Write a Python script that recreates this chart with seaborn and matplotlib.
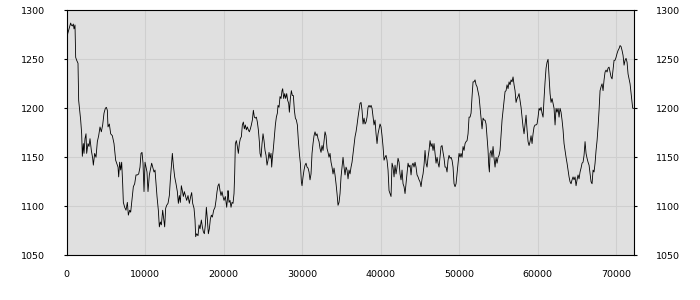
import matplotlib
matplotlib.use("Agg")
import matplotlib.pyplot as plt
import seaborn as sns
import pandas as pd

# ---- data (x = sample index, y = value) ----
x_a = [0, 149, 318, 531, 616, 743, 871, 956, 1083, 1168, 1295, 1465, 1550, 1678, 1805, 1932, 2017, 2145,
       2230, 2357, 2485, 2569, 2739, 2867, 2994, 3164, 3334, 3419, 3589, 3759, 3928, 4098, 4268, 4438,
       4608, 4778, 4948, 5075, 5203, 5287, 5457, 5627, 5840, 6052, 6264, 6392, 6562, 6647, 6774, 6901,
       7029, 7156, 7241, 7411, 7581, 7751, 7878, 8048, 8176, 8388, 8515, 8685, 8855, 9025, 9195, 9365,
       9492, 9620, 9747, 9874, 10002]
y_a = [1260, 1276, 1281, 1287, 1285, 1284, 1286, 1281, 1285, 1252, 1249, 1246, 1208, 1198, 1188, 1174, 1151, 1164,
       1154, 1169, 1174, 1154, 1164, 1161, 1169, 1157, 1149, 1142, 1154, 1150, 1166, 1172, 1181, 1176,
       1183, 1195, 1200, 1201, 1198, 1181, 1184, 1174, 1172, 1164, 1147, 1144, 1140, 1130, 1145, 1137,
       1145, 1123, 1104, 1099, 1096, 1104, 1091, 1096, 1094, 1110, 1120, 1123, 1132, 1132, 1133, 1140,
       1154, 1155, 1144, 1115, 1145]

x_b = [10255, 10383, 10553, 10723, 10850, 10977, 11147, 11275, 11402, 11530, 11699, 11827, 11954, 12082,
       12252, 12379, 12506, 12634, 12761, 12931, 13101, 13228, 13356, 13483, 13610, 13780, 13950, 14120,
       14248, 14375, 14502, 14630, 14757, 14885, 15012, 15139, 15309, 15479, 15649, 15819, 15946, 16074,
       16244, 16371, 16456, 16583, 16753, 16881, 17008, 17178, 17305, 17433, 17560, 17688, 17815, 17942,
       18070, 18197, 18325, 18452, 18579, 18749, 18919, 19047, 19174, 19301, 19429, 19556, 19684, 19811,
       19938, 20066, 20236, 20406, 20533]
y_b = [1135, 1115, 1132, 1139, 1144, 1140, 1135, 1137, 1123, 1110, 1096, 1079, 1084, 1081,
       1096, 1087, 1079, 1098, 1101, 1103, 1111, 1127, 1140, 1154, 1142, 1130, 1123, 1115,
       1103, 1111, 1104, 1121, 1116, 1110, 1115, 1111, 1106, 1111, 1103, 1110, 1114, 1103,
       1098, 1086, 1069, 1072, 1070, 1081, 1077, 1086, 1079, 1074, 1072, 1081, 1099, 1087,
       1072, 1077, 1087, 1091, 1089, 1096, 1099, 1106, 1115, 1121, 1123, 1116, 1111, 1115,
       1110, 1106, 1110, 1099, 1110]

x_c = [20575, 20702, 20830, 20957, 21085, 21212, 21339, 21424, 21509, 21637, 21764, 21892, 22019, 22146,
       22274, 22401, 22529, 22656, 22783, 22911, 23038, 23166, 23293, 23420, 23548, 23675, 23803, 23930,
       24058, 24185, 24312, 24440, 24567, 24652, 24780, 24907, 25034, 25162, 25289, 25417, 25544, 25671,
       25799, 25926, 26054, 26138, 26223, 26351, 26478, 26606, 26733, 26861, 26945, 27073, 27200, 27328,
       27455, 27540, 27667, 27795, 27922, 28050, 28177, 28304, 28389, 28517, 28644, 28772, 28899, 29026,
       29154, 29281, 29409, 29536, 29663, 29791, 29918, 30003, 30131, 30258, 30386, 30513, 30640, 30768,
       30895]
y_c = [1116, 1104, 1106, 1099, 1104, 1103, 1113, 1133, 1164, 1167, 1161, 1154, 1164, 1169,
       1171, 1183, 1186, 1179, 1183, 1178, 1181, 1178, 1176, 1179, 1183, 1188, 1198, 1191,
       1190, 1191, 1186, 1178, 1166, 1154, 1150, 1164, 1174, 1167, 1157, 1152, 1142, 1147,
       1155, 1149, 1154, 1140, 1149, 1159, 1171, 1183, 1191, 1195, 1203, 1201, 1212, 1210,
       1218, 1220, 1210, 1215, 1210, 1215, 1208, 1205, 1196, 1210, 1218, 1213, 1213, 1198,
       1190, 1188, 1183, 1167, 1154, 1144, 1125, 1121, 1130, 1137, 1142, 1144, 1140, 1139,
       1135]

x_d = [31022, 31149, 31277, 31404, 31532, 31659, 31786, 31914, 32041, 32169, 32296, 32423, 32551, 32678,
       32806, 32933, 33061, 33188, 33315, 33443, 33570, 33698, 33825, 33952, 34080, 34207, 34335, 34462,
       34589, 34717, 34844, 34972, 35099, 35226, 35354, 35481, 35609, 35736, 35864, 35991, 36118, 36246,
       36373, 36501, 36628, 36755, 36883, 37010, 37138, 37265, 37392, 37520, 37647, 37775, 37902, 38030,
       38157, 38284, 38412, 38539, 38667, 38794, 38921, 39049, 39176, 39304, 39431, 39558, 39686, 39813,
       39941, 40068, 40195, 40323, 40450, 40578, 40705, 40832, 40960, 41087, 41215, 41342]
y_d = [1127, 1133, 1154, 1164, 1172, 1176, 1172, 1174, 1169, 1166, 1159, 1155, 1162, 1157,
       1167, 1176, 1172, 1159, 1155, 1150, 1154, 1145, 1140, 1133, 1139, 1132, 1123, 1113,
       1101, 1104, 1113, 1130, 1140, 1150, 1140, 1132, 1140, 1137, 1128, 1137, 1133, 1140,
       1145, 1154, 1162, 1171, 1176, 1183, 1191, 1198, 1205, 1206, 1198, 1184, 1190, 1184,
       1186, 1191, 1201, 1203, 1201, 1203, 1200, 1191, 1183, 1188, 1174, 1164, 1174, 1179,
       1184, 1181, 1172, 1161, 1147, 1150, 1152, 1147, 1137, 1116, 1113, 1110]

x_e = [41469, 41596, 41724, 41851, 41979, 42106, 42233, 42361, 42488, 42616, 42743, 42870, 42998, 43125,
       43253, 43380, 43508, 43635, 43762, 43890, 44017, 44145, 44272, 44399, 44527, 44654, 44782, 44909,
       45036, 45164, 45291, 45419, 45546, 45673, 45801, 45928, 46056, 46183, 46310, 46438, 46565, 46693,
       46820, 46947, 47075, 47202, 47330, 47457, 47585, 47712, 47839, 47967, 48094, 48222, 48349, 48476,
       48604, 48731, 48859, 48986, 49113, 49241, 49368, 49496, 49623, 49750, 49878, 50005, 50133, 50260,
       50387, 50515, 50642, 50770, 50897, 51024, 51152, 51279, 51407, 51534, 51661, 51789]
y_e = [1144, 1140, 1130, 1142, 1133, 1140, 1149, 1145, 1133, 1127, 1137, 1123, 1120, 1113,
       1123, 1132, 1144, 1140, 1142, 1132, 1142, 1144, 1140, 1145, 1140, 1132, 1130, 1127,
       1125, 1120, 1128, 1133, 1142, 1157, 1144, 1140, 1150, 1157, 1167, 1161, 1164, 1157,
       1164, 1154, 1144, 1150, 1144, 1140, 1150, 1161, 1162, 1155, 1149, 1140, 1140, 1135,
       1147, 1152, 1149, 1150, 1147, 1140, 1123, 1120, 1123, 1133, 1144, 1154, 1150, 1154,
       1150, 1161, 1157, 1164, 1166, 1167, 1174, 1191, 1191, 1195, 1212, 1227]

x_f = [51916, 52043, 52171, 52298, 52426, 52553, 52680, 52808, 52935, 53063, 53190, 53317, 53445, 53572,
       53700, 53785, 53869, 53954, 54082, 54209, 54337, 54464, 54591, 54719, 54846, 54974, 55101, 55228,
       55356, 55483, 55611, 55738, 55865, 55993, 56120, 56248, 56375, 56502, 56630, 56757, 56885, 57012,
       57140, 57267, 57394, 57522, 57649, 57777, 57904, 58031, 58159, 58286, 58414, 58541, 58668, 58796,
       58923, 59051, 59178, 59305, 59433, 59560, 59688, 59815, 59942, 60070, 60197, 60325, 60452, 60579,
       60707, 60834, 60962, 61089, 61216, 61344, 61471, 61599, 61726, 61853, 61981, 62108, 62236]
y_f = [1227, 1229, 1224, 1222, 1217, 1212, 1201, 1191, 1179, 1190, 1188, 1188, 1184, 1171,
       1157, 1142, 1135, 1154, 1157, 1150, 1161, 1149, 1140, 1150, 1144, 1150, 1152, 1157,
       1172, 1188, 1198, 1208, 1217, 1218, 1224, 1220, 1227, 1224, 1229, 1227, 1232, 1224,
       1218, 1206, 1210, 1212, 1215, 1208, 1201, 1191, 1181, 1174, 1184, 1193, 1178, 1166,
       1162, 1166, 1172, 1164, 1174, 1181, 1183, 1183, 1184, 1191, 1200, 1198, 1201, 1195,
       1191, 1210, 1227, 1241, 1247, 1250, 1232, 1215, 1206, 1210, 1205, 1200, 1183]

x_g = [62362, 62489, 62617, 62744, 62872, 62999, 63126, 63254, 63381, 63509, 63636, 63763, 63891, 64018,
       64146, 64273, 64400, 64528, 64655, 64783, 64910, 65038, 65165, 65292, 65420, 65547, 65675, 65802,
       65929, 66057, 66184, 66312, 66439, 66566, 66694, 66821, 66949, 67076, 67203, 67331, 67458, 67586,
       67713, 67840, 67968, 68095, 68223, 68350, 68477, 68605, 68732, 68860, 68987, 69115, 69242, 69369,
       69497, 69624, 69752, 69879, 70006, 70134, 70261, 70389, 70516, 70643, 70771, 70898, 71026, 71153,
       71280, 71408, 71535, 71663, 71790, 71917, 72045, 72130, 72257]
y_g = [1200, 1196, 1200, 1191, 1200, 1196, 1188, 1178, 1164, 1157, 1150, 1144, 1137, 1130,
       1125, 1123, 1127, 1130, 1127, 1130, 1121, 1127, 1132, 1128, 1135, 1139, 1144, 1145,
       1152, 1166, 1154, 1149, 1145, 1142, 1133, 1125, 1123, 1137, 1135, 1144, 1157, 1167,
       1181, 1198, 1218, 1222, 1225, 1218, 1229, 1237, 1239, 1237, 1241, 1242, 1237, 1232,
       1230, 1239, 1249, 1249, 1252, 1256, 1259, 1261, 1264, 1263, 1259, 1254, 1244, 1249,
       1251, 1247, 1235, 1230, 1225, 1215, 1206, 1200, 1200]

x_ticks = [0, 10000, 20000, 30000, 40000, 50000, 60000, 70000]
y_ticks = [1050, 1100, 1150, 1200, 1250, 1300]

df = pd.DataFrame({
    "x": x_a + x_b + x_c + x_d + x_e + x_f + x_g,
    "y": y_a + y_b + y_c + y_d + y_e + y_f + y_g,
})

sns.set_theme(style="white")
plt.rcParams['font.family'] = ['DejaVu Sans']

fig = plt.figure(figsize=(7, 3), dpi=100)
fig.patch.set_facecolor('white')
ax = fig.add_axes([66.5 / 700, 44.7 / 300, (634.3 - 66.5) / 700, (255.3 - 10.3) / 300])
ax.set_facecolor('#e0e0e0')

sns.lineplot(data=df, x="x", y="y", ax=ax, color="black", linewidth=0.6,
             estimator=None, sort=False, antialiased=True)

ax.set_xlim(0, 72330)
ax.set_ylim(1050, 1300)
ax.set_xticks(x_ticks)
ax.set_yticks(y_ticks)
ax.set_xticklabels([str(t) for t in x_ticks])
ax.set_yticklabels([str(t) for t in y_ticks])
ax.set_xlabel("")
ax.set_ylabel("")

ax.grid(True, color="#cfcfcf", linewidth=0.8)
ax.set_axisbelow(True)

for s in ax.spines.values():
    s.set_visible(True)
    s.set_color("black")
    s.set_linewidth(0.8)

ax.tick_params(axis="both", direction="out", length=2.5, width=0.8, colors="black",
               labelsize=6.8, labelcolor="black")
ax.tick_params(axis="x", pad=8)
ax.tick_params(axis="y", left=True, right=True, labelleft=True, labelright=True, pad=13)

fig.savefig("out.png", dpi=100, facecolor="white")
